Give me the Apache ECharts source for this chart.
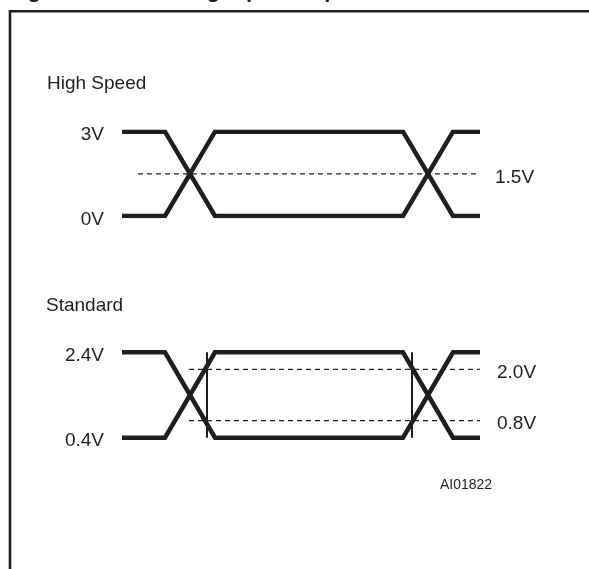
<!DOCTYPE html>
<html>
<head>
<meta charset="utf-8">
<script src="https://cdn.jsdelivr.net/npm/echarts@6/dist/echarts.min.js"></script>
<style>
  html, body { margin: 0; padding: 0; background: #ffffff; }
  #chart { width: 589px; height: 569px; }
</style>
</head>
<body>
<div id="chart"></div>
<script>
// ---- data (time in arbitrary units, level in volts) ----
const figureTitle = 'Figure 4. AC Testing Input Output Waveforms';
const panelNames = ['High Speed', 'Standard'];
const cornerTimes = [0, 4.3, 9.3, 28.1, 33.1, 35.8];
const waveAState = [0, 0, 1, 1, 0, 0];   // low -> high -> low
const waveBState = [1, 1, 0, 0, 1, 1];   // high -> low -> high
const hsLevels = [0, 3];                 // High Speed low / high (V)
const hsRefLevels = [1.5];               // High Speed reference (V)
const hsRefSpan = [1.6, 35.6];
const stdLevels = [0.4, 2.4];            // Standard low / high (V)
const stdRefLevels = [2.0, 0.8];         // Standard thresholds (V)
const stdRefSpan = [6.7, 35.8];
const stdMarkerTimes = [8.5, 29.0];      // vertical sampling markers
const figureCode = 'AI01822';

// ---- styling ----
const INK = '#1e1e1e';
const FONT = 'Liberation Sans, Arial, sans-serif';

function wave(states, levels) {
  return cornerTimes.map((t, i) => [t, levels[states[i]]]);
}

const series = [];
function refLine(gi, span, v) {
  return {
    type: 'line', xAxisIndex: gi, yAxisIndex: gi,
    data: [[span[0], v], [span[1], v]],
    symbol: 'none', silent: true, animation: false,
    lineStyle: { color: INK, width: 1.3, type: [5, 4] },
    endLabel: { show: true, formatter: () => v.toFixed(1) + 'V', distance: 17,
      offset: [0, 3.5], color: INK, fontSize: 19, fontFamily: FONT }
  };
}
// High Speed (grid 0)
[waveAState, waveBState].forEach(s => series.push({
  type: 'line', xAxisIndex: 0, yAxisIndex: 0, data: wave(s, hsLevels),
  symbol: 'none', silent: true, animation: false,
  lineStyle: { color: INK, width: 4.5, join: 'miter', cap: 'butt' }
}));
hsRefLevels.forEach(v => series.push(refLine(0, hsRefSpan, v)));
// Standard (grid 1)
[waveAState, waveBState].forEach(s => series.push({
  type: 'line', xAxisIndex: 1, yAxisIndex: 1, data: wave(s, stdLevels),
  symbol: 'none', silent: true, animation: false,
  lineStyle: { color: INK, width: 4.5, join: 'miter', cap: 'butt' }
}));
stdRefLevels.forEach(v => series.push(refLine(1, stdRefSpan, v)));
stdMarkerTimes.forEach(t => series.push({
  type: 'line', xAxisIndex: 1, yAxisIndex: 1,
  data: [[t, stdLevels[0]], [t, stdLevels[1]]],
  symbol: 'none', silent: true, animation: false,
  lineStyle: { color: INK, width: 2 }
}));

function xAx(gi) {
  return { type: 'value', gridIndex: gi, min: cornerTimes[0], max: cornerTimes[cornerTimes.length - 1],
    show: false };
}
function yAx(gi, levels, fmt) {
  return { type: 'value', gridIndex: gi, min: levels[0], max: levels[1],
    axisLine: { show: false }, axisTick: { show: false }, splitLine: { show: false },
    axisLabel: { show: true, customValues: levels, formatter: v => '{v|' + fmt(v) + '}', margin: 18,
      color: INK, fontSize: 19, fontFamily: FONT,
      rich: { v: { color: INK, fontSize: 19, fontFamily: FONT, padding: [7, 0, 0, 0] } } } };
}

const chart = echarts.init(document.getElementById('chart'), null, { renderer: 'canvas' });
chart.setOption({
  animation: false,
  backgroundColor: '#ffffff',
  title: [
    { text: figureTitle, left: 8, top: -20, padding: 0,
      textStyle: { fontSize: 22, fontWeight: 'bold', color: INK, fontFamily: FONT } },
    { text: panelNames[0], left: 47, top: 74, padding: 0,
      textStyle: { fontSize: 19, fontWeight: 'normal', color: INK, fontFamily: FONT } },
    { text: panelNames[1], left: 46, top: 296, padding: 0,
      textStyle: { fontSize: 19, fontWeight: 'normal', color: INK, fontFamily: FONT } },
    { text: figureCode, left: 440, top: 478, padding: 0,
      textStyle: { fontSize: 14, fontWeight: 'normal', color: INK, fontFamily: FONT } }
  ],
  grid: [
    { left: 122, width: 358, top: 131.7, height: 84.3 },
    { left: 122, width: 358, top: 352.3, height: 85.4 }
  ],
  xAxis: [xAx(0), xAx(1)],
  yAxis: [
    yAx(0, hsLevels, v => v + 'V'),
    yAx(1, stdLevels, v => Number(v).toFixed(1) + 'V')
  ],
  graphic: [
    { type: 'rect', silent: true, z: 100,
      shape: { x: 10, y: 11.3, width: 800, height: 800 },
      style: { fill: 'none', stroke: INK, lineWidth: 2.6 } }
  ],
  series: series
});
</script>
</body>
</html>
